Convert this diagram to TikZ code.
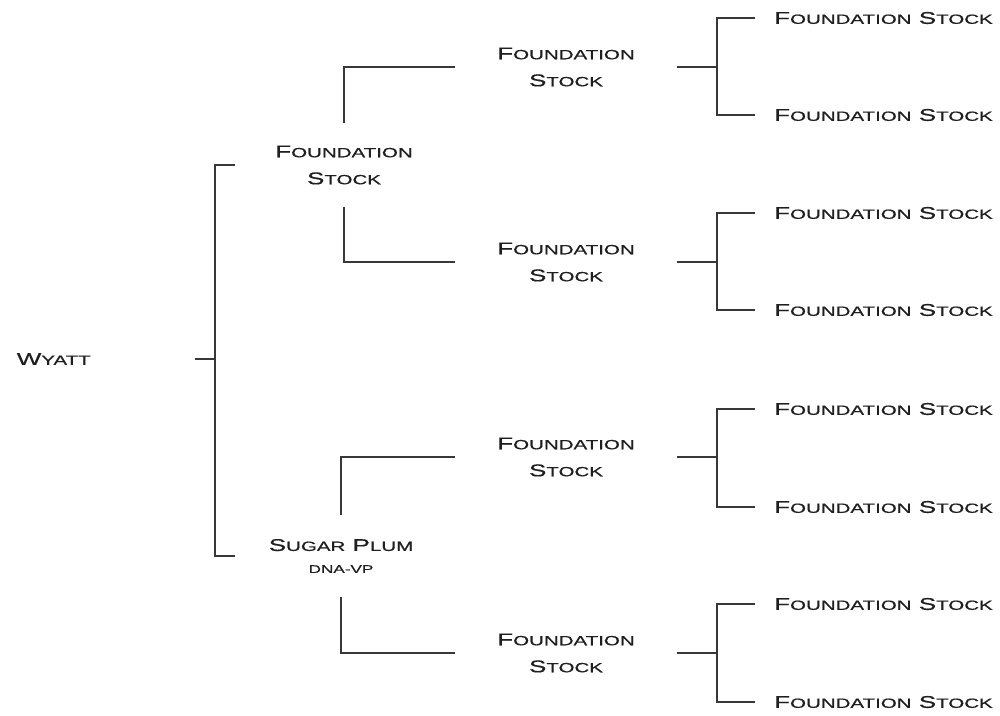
\documentclass[tikz,border=0pt]{standalone}
\usepackage{fontspec}
\newfontfamily\cgfont[FakeStretch=1.53,FakeBold=0.6]{Liberation Sans}
\newcommand\SCw[2]{#1{\fontsize{13.4}{15}\selectfont #2}}
\tikzset{
  lbl/.style={font=\cgfont\fontsize{17}{27}\selectfont, text=black!88, inner sep=0pt, align=center},
  conn/.style={draw=black!78, line width=1.3pt},
}
\begin{document}
\begin{tikzpicture}[x=1pt,y=-1pt]
\useasboundingbox (0,0) rectangle (1000,715);
% root
\node[lbl, anchor=east, text width=178pt, align=left] (wy) at (195,359) {\SCw{W}{YATT}};
\coordinate (rj) at (215,359);
% level 1
\node[lbl, minimum width=218pt, minimum height=83pt] (a) at (344,165) {\SCw{F}{OUNDATION}\\\SCw{S}{TOCK}};
\node[lbl, minimum width=212pt, minimum height=82pt] (b) at (341,556) {\SCw{S}{UGAR} \SCw{P}{LUM}\\[-5pt]{\fontsize{11.2}{12}\selectfont DNA-VP}};
% level 2
\foreach \n/\y in {a1/67,a2/262,b1/457,b2/653}{
  \node[lbl, minimum width=221pt] (\n) at (566,\y) {\SCw{F}{OUNDATION}\\\SCw{S}{TOCK}};
  \coordinate (j\n) at (717,\y);
}
% leaves
\foreach \n/\y in {l1/18,l2/115,l3/213,l4/310,l5/409,l6/507,l7/604,l8/702}{
  \node[lbl, anchor=west, inner xsep=19pt] (\n) at (755,\y) {\SCw{F}{OUNDATION} \SCw{S}{TOCK}};
}
% connectors
\draw[conn] (wy.east) -- (rj);
\draw[conn] (rj) |- (a.west);
\draw[conn] (rj) |- (b.west);
\draw[conn] (a.north) |- (a1.west);
\draw[conn] (a.south) |- (a2.west);
\draw[conn] (b.north) |- (b1.west);
\draw[conn] (b.south) |- (b2.west);
\draw[conn] (a1.east) -- (ja1);
\draw[conn] (a2.east) -- (ja2);
\draw[conn] (b1.east) -- (jb1);
\draw[conn] (b2.east) -- (jb2);
\draw[conn] (ja1) |- (l1.west);
\draw[conn] (ja1) |- (l2.west);
\draw[conn] (ja2) |- (l3.west);
\draw[conn] (ja2) |- (l4.west);
\draw[conn] (jb1) |- (l5.west);
\draw[conn] (jb1) |- (l6.west);
\draw[conn] (jb2) |- (l7.west);
\draw[conn] (jb2) |- (l8.west);
\end{tikzpicture}
\end{document}
